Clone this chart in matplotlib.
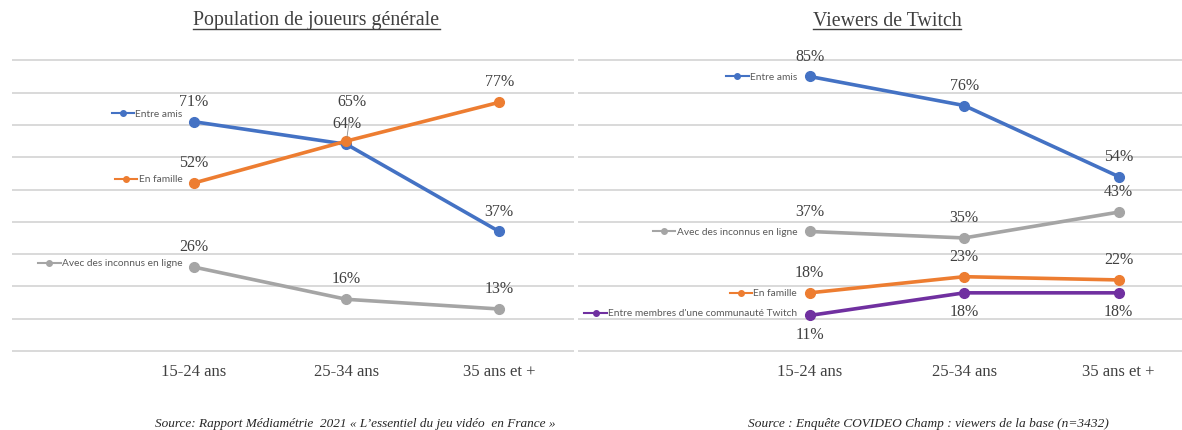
import matplotlib.pyplot as plt
from matplotlib.lines import Line2D
from matplotlib.offsetbox import DrawingArea, TextArea, HPacker, AnnotationBbox

ages = ['15-24 ans', '25-34 ans', '35 ans et +']

# Population de joueurs générale
gen_amis = [71, 64, 37]
gen_famille = [52, 65, 77]
gen_inconnus = [26, 16, 13]

# Viewers de Twitch
tw_amis = [85, 76, 54]
tw_inconnus = [37, 35, 43]
tw_famille = [18, 23, 22]
tw_communaute = [11, 18, 18]

BLUE = '#4472C4'
ORANGE = '#ED7D31'
GREY = '#A5A5A5'
PURPLE = '#7030A0'
TXT = '#404040'
SERIF = 'Liberation Serif'

fig = plt.figure(figsize=(11.82, 4.31), dpi=100)
W, H = 1182, 431

# axes: y=0 at 352px, 10% = 32.3px
y_bot = (H - 355.2) / H
y_h = (355.2 - 58.1) / H
ax1 = fig.add_axes([12 / W, y_bot, 562 / W, y_h])
ax2 = fig.add_axes([578 / W, y_bot, 604 / W, y_h])


def setup(ax, xlim):
    ax.set_xlim(*xlim)
    ax.set_ylim(-1, 91)
    ax.set_yticks(range(0, 91, 10))
    ax.yaxis.grid(True, color='#d9d9d9', lw=1.4)
    ax.set_axisbelow(True)
    for s in ax.spines.values():
        s.set_visible(False)
    ax.set_xticks(range(len(ages)))
    ax.set_xticklabels(ages, fontsize=12, color=TXT, family=SERIF)
    ax.tick_params(left=False, labelleft=False, bottom=False, pad=3)


def series(ax, vals, color, name, key_dy=0, key_dx=-8, lab_dy=15):
    x = range(len(vals))
    ax.plot(x, vals, color=color, lw=2.6, marker='o', ms=7, solid_capstyle='round')
    for i, v in enumerate(vals):
        if lab_dy is None:
            continue
        ax.annotate(f'{v}%', (i, v), xytext=(0, lab_dy), textcoords='offset points',
                    ha='center', va='center', fontsize=11.5, color=TXT, family=SERIF)
    # legend key placed left of the first point
    da = DrawingArea(16, 8, 0, 0)
    da.add_artist(Line2D([0, 16], [4, 4], color=color, lw=1.5))
    da.add_artist(Line2D([8], [4], marker='o', ms=4, color=color))
    txt = TextArea(name, textprops=dict(fontsize=7.3, color='#595959', family='Lato'))
    box = HPacker(children=[da, txt], align='center', pad=0, sep=1)
    ab = AnnotationBbox(box, (0, vals[0]), xybox=(key_dx, key_dy), xycoords='data',
                        boxcoords='offset points', box_alignment=(1, 0.5), frameon=False)
    ax.add_artist(ab)


setup(ax1, (-1.19, 2.49))
series(ax1, gen_amis, BLUE, 'Entre amis', key_dy=6)
series(ax1, gen_famille, ORANGE, 'En famille', key_dy=3, lab_dy=None)
series(ax1, gen_inconnus, GREY, 'Avec des inconnus en ligne', key_dy=3)
# orange labels, the middle one lifted with a leader line
for i, v in enumerate(gen_famille):
    if i == 1:
        ax1.annotate(f'{v}%', (i, v), xytext=(4, 29), textcoords='offset points',
                     ha='center', va='center', fontsize=11.5, color=TXT, family=SERIF,
                     arrowprops=dict(arrowstyle='-', color='#8c8c8c', lw=0.6,
                                     shrinkA=5, shrinkB=3))
    else:
        ax1.annotate(f'{v}%', (i, v), xytext=(0, 15), textcoords='offset points',
                     ha='center', va='center', fontsize=11.5, color=TXT, family=SERIF)

setup(ax2, (-1.5, 2.41))
series(ax2, tw_amis, BLUE, 'Entre amis', key_dy=0, key_dx=-9)
series(ax2, tw_inconnus, GREY, 'Avec des inconnus en ligne', key_dy=0, key_dx=-9)
series(ax2, tw_famille, ORANGE, 'En famille', key_dy=0, key_dx=-9)
series(ax2, tw_communaute, PURPLE, "Entre membres d'une communauté Twitch",
       key_dy=2, key_dx=-9, lab_dy=-13)

# titles with underline
titles = [('Population de joueurs générale', 316.5), ('Viewers de Twitch', 887)]
fig.canvas.draw()
inv = fig.transFigure.inverted()
for title, xc in titles:
    t = fig.text(xc / W, 1 - 21 / H, title, ha='center', va='center', fontsize=14.3,
                 color=TXT, family=SERIF)
    fig.canvas.draw()
    bb = t.get_window_extent()
    (x0, y0), (x1, _) = inv.transform([(bb.x0, bb.y0 + 1), (bb.x1, bb.y0 + 1)])
    fig.add_artist(Line2D([x0, x1], [y0, y0], transform=fig.transFigure,
                          color=TXT, lw=1))

fig.text(355 / W, 1 - 424 / H,
         'Source: Rapport Médiamétrie  2021 « L\u2019essentiel du jeu vidéo  en France »',
         ha='center', va='center', fontsize=9.5, style='italic', color='#262626', family=SERIF)
fig.text(928 / W, 1 - 424 / H,
         'Source : Enquête COVIDEO Champ : viewers de la base (n=3432)',
         ha='center', va='center', fontsize=9.6, style='italic', color='#262626', family=SERIF)

fig.savefig('out.png', dpi=100)
